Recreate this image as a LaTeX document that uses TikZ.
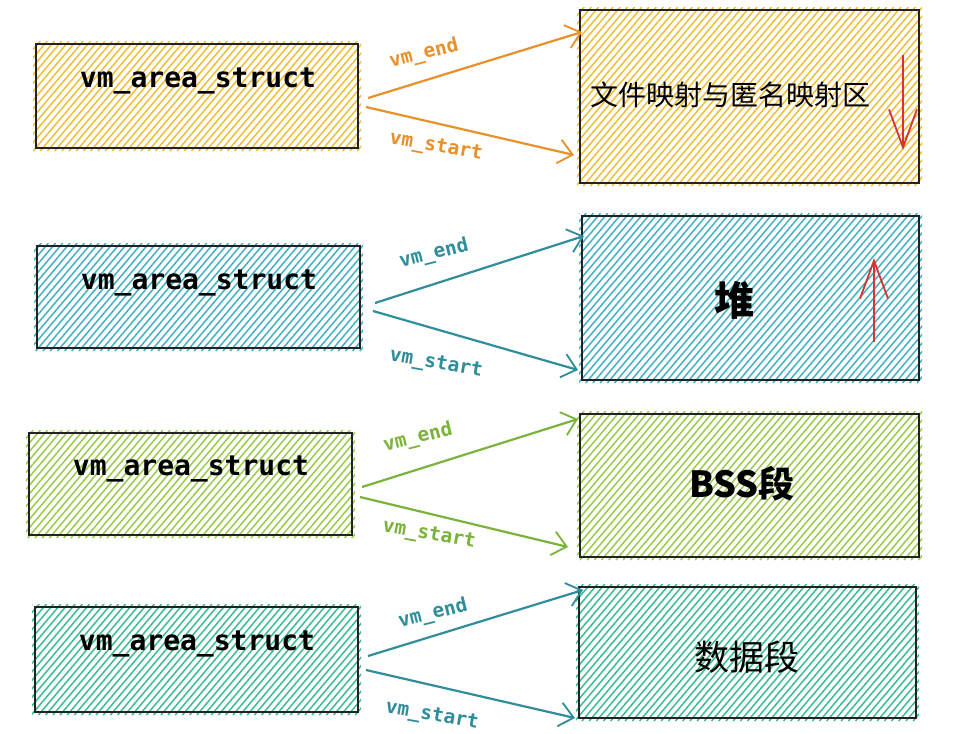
\documentclass[tikz,border=0pt]{standalone}
\usepackage{fontspec}
\setmonofont{DejaVu Sans Mono}
\newfontfamily\cjk{Noto Sans CJK SC}
\usetikzlibrary{arrows.meta}
\definecolor{hyel}{HTML}{F0BE3A}
\definecolor{aorg}{HTML}{E8902A}
\definecolor{hteal}{HTML}{45B2C4}
\definecolor{ateal}{HTML}{2F8D9C}
\definecolor{hgrn}{HTML}{9CCB4E}
\definecolor{agrn}{HTML}{7BB33A}
\definecolor{hmint}{HTML}{3DBC94}
\definecolor{rred}{HTML}{D63333}
\definecolor{edge}{HTML}{222222}
\newcommand{\hatchrect}[5]{%
  \begin{scope}
    \clip (#1-3,#2-3) rectangle (#3+3,#4+3);
    \pgfmathsetmacro{\myhh}{#4-#2+6}
    \pgfmathsetmacro{\myxs}{#1-3-0.85*\myhh}
    \pgfmathsetmacro{\myxsb}{\myxs+7.2}
    \foreach \xx in {\myxs,\myxsb,...,#3}{\draw[#5,line width=1.5pt] (\xx,#4+3) -- ++(0.85*\myhh,-\myhh);}
  \end{scope}}
\tikzset{
  boxst/.style={draw=edge,line width=2.2pt,rectangle,inner sep=0pt},
  structtxt/.style={font=\ttfamily\bfseries\fontsize{28}{32}\selectfont,text=black},
  lbltxt/.style={font=\ttfamily\bfseries\fontsize{19.5}{22}\selectfont},
  cjktxt/.style={text=black},
  conn/.style={line width=2.2pt,-{Straight Barb[length=14pt,width=24pt,line width=1.8pt]}},
  redarr/.style={draw=rred,line width=2pt,-{Straight Barb[length=38pt,width=28pt,line width=1.8pt]}}
}
\begin{document}
\begin{tikzpicture}[x=1pt,y=-1pt]
\useasboundingbox[fill=white] (0,0) rectangle (978,734);
% hatching
\hatchrect{36}{44}{358}{148}{hyel}
\hatchrect{580}{10}{919}{183}{hyel}
\hatchrect{37}{246}{360}{348}{hteal}
\hatchrect{582}{216}{919}{380}{hteal}
\hatchrect{29}{433}{352}{535}{hgrn}
\hatchrect{580}{414}{919}{557}{hgrn}
\hatchrect{35}{607}{358}{712}{hmint}
\hatchrect{579}{587}{916}{718}{hmint}
% left boxes
\node[boxst,minimum width=322pt,minimum height=104pt] (l1) at (197,96) {};
\node[boxst,minimum width=323pt,minimum height=102pt] (l2) at (198.5,297) {};
\node[boxst,minimum width=323pt,minimum height=102pt] (l3) at (190.5,484) {};
\node[boxst,minimum width=323pt,minimum height=105pt] (l4) at (196.5,659.5) {};
% right boxes
\node[boxst,minimum width=339pt,minimum height=173pt] (r1) at (749.5,96.5) {};
\node[boxst,minimum width=337pt,minimum height=164pt] (r2) at (750.5,298) {};
\node[boxst,minimum width=339pt,minimum height=143pt] (r3) at (749.5,485.5) {};
\node[boxst,minimum width=337pt,minimum height=131pt] (r4) at (747.5,652.5) {};
% texts
\node[structtxt] (t1) at (198,81) {vm\_area\_struct};
\node[structtxt] (t2) at (199,283) {vm\_area\_struct};
\node[structtxt] (t3) at (191,469) {vm\_area\_struct};
\node[structtxt] (t4) at (197,644) {vm\_area\_struct};
\node[cjktxt,font=\cjk\fontsize{28}{32}\selectfont] (c1) at (730,95) {文件映射与匿名映射区};
\node[cjktxt,font=\cjk\bfseries\fontsize{40}{44}\selectfont] (c2) at (734,300) {堆};
\node[cjktxt,font=\cjk\bfseries\fontsize{36}{40}\selectfont] (c3) at (742,484) {BSS段};
\node[cjktxt,font=\cjk\fontsize{35}{38}\selectfont] (c4) at (747,657) {数据段};
% connector coordinates
\coordinate (e1s) at (368,98);  \coordinate (e1e) at (582,32);
\coordinate (s1s) at (366,107); \coordinate (s1e) at (574,155);
\coordinate (e2s) at (375,303); \coordinate (e2e) at (584,236);
\coordinate (s2s) at (373,311); \coordinate (s2e) at (578,370);
\coordinate (e3s) at (362,487); \coordinate (e3e) at (578,419);
\coordinate (s3s) at (360,497); \coordinate (s3e) at (568,547);
\coordinate (e4s) at (368,656); \coordinate (e4e) at (583,590);
\coordinate (s4s) at (366,670); \coordinate (s4e) at (575,718);
\draw[conn,draw=aorg] (e1s) -- (e1e);
\draw[conn,draw=aorg] (s1s) -- (s1e);
\draw[conn,draw=ateal] (e2s) -- (e2e);
\draw[conn,draw=ateal] (s2s) -- (s2e);
\draw[conn,draw=agrn] (e3s) -- (e3e);
\draw[conn,draw=agrn] (s3s) -- (s3e);
\draw[conn,draw=ateal] (e4s) -- (e4e);
\draw[conn,draw=ateal] (s4s) -- (s4e);
% labels
\node[lbltxt,text=aorg,rotate=14] (le1) at (424,54) {vm\_end};
\node[lbltxt,text=aorg,rotate=-10] (ls1) at (436,147) {vm\_start};
\node[lbltxt,text=ateal,rotate=14] (le2) at (434,254) {vm\_end};
\node[lbltxt,text=ateal,rotate=-10] (ls2) at (436,364) {vm\_start};
\node[lbltxt,text=agrn,rotate=14] (le3) at (418,438) {vm\_end};
\node[lbltxt,text=agrn,rotate=-10] (ls3) at (429,535) {vm\_start};
\node[lbltxt,text=ateal,rotate=14] (le4) at (433,614) {vm\_end};
\node[lbltxt,text=ateal,rotate=-10] (ls4) at (432,716) {vm\_start};
% red arrows
\coordinate (rd1s) at (903,55); \coordinate (rd1e) at (903,150);
\coordinate (rd2s) at (874,342); \coordinate (rd2e) at (874,258);
\draw[redarr] (rd1s) -- (rd1e);
\draw[redarr] (rd2s) -- (rd2e);
\end{tikzpicture}
\end{document}
